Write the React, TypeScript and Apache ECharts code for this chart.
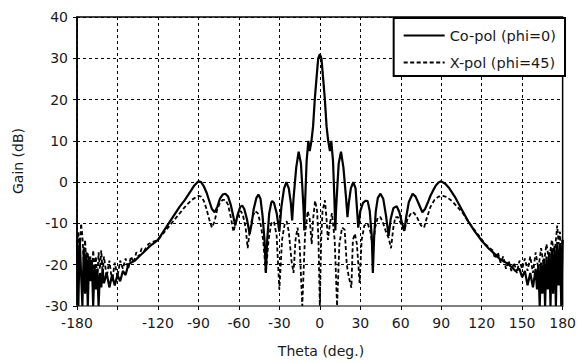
import React, { useEffect, useRef } from "react";
import * as echarts from "echarts";

const xTicks = [-180, -150, -120, -90, -60, -30, 0, 30, 60, 90, 120, 150, 180];
const seriesNames = ["Co-pol (phi=0)", "X-pol (phi=45)"];

const coTheta = [
  -180, -179, -178, -177, -176, -175, -174, -173, -172, -171, -170, -169, -168, -167, -166, -165, -164, -163, -162, -161,
  -160, -158, -156, -154, -152, -150, -148, -146, -144, -142, -140, -137, -134, -130, -126, -122, -120, -116, -112, -108,
  -104, -100, -96, -93, -90, -88, -86, -84, -82, -80, -78, -76, -74, -72, -70, -68, -66, -64, -62.7, -61,
  -59, -57.5, -56, -54, -52, -50.5, -49, -47, -45.5, -44, -42.5, -41, -40, -39, -37.5, -36, -35.3, -34, -32, -30,
  -28.5, -26.5, -24.8, -23, -21.5, -20.5, -19.5, -17.5, -15.7, -14, -13, -12, -11.5, -10.8, -9.8, -8.5, -7.5, -6.2, -5, -3.75,
  -2.5, -1.2, 0, 1.2, 2.5, 3.75, 5, 6.2, 7.5, 8.5, 9.8, 10.8, 11.5, 12, 13, 14, 15.7, 17.5, 19.5, 20.5,
  21.5, 23, 24.8, 26.5, 28.5, 30, 32, 34, 35.5, 37, 38.5, 39.3, 40.3, 41.5, 43, 45, 47, 49, 51, 52.5,
  54.5, 57, 59, 61, 62.7, 64, 66, 68.8, 71, 73, 76, 78, 80, 82, 84, 86, 88, 90, 93, 96,
  100, 105, 110, 115, 120, 125, 130, 134, 138, 142, 145, 148, 150, 152, 154, 156, 158, 160, 161, 162,
  163, 164, 165, 166, 167, 168, 169, 170, 171, 172, 173, 174, 175, 176, 177, 178, 179, 180,
];
const coGain = [
  -14, -30, -13.5, -22, -30, -16, -27, -17, -30, -18, -24, -19, -30, -20, -26, -21, -30, -22, -25.5, -21,
  -24.5, -22, -25.5, -22.5, -25, -22.5, -24, -21.5, -22.5, -20, -19.5, -19, -18, -16.8, -15.5, -14.5, -14, -12, -10, -8,
  -6, -4.3, -2.3, -0.8, 0.2, 0, -1, -2.5, -4.5, -6.5, -7.3, -6, -4, -3, -2.8, -3.5, -5.5, -8.5, -10.5, -8,
  -6, -5.7, -6.5, -9, -12.6, -10, -6.5, -3.8, -3, -4, -8, -14, -22, -14, -7.5, -5, -4.6, -5, -7.5, -12,
  -6, -1.5, 0, -1.5, -5, -9.3, -4, 3.5, 7.4, 4.5, -1, -7, -11.7, -4, 5, 10, 7.5, 10, 13.5, 20,
  25, 30, 31, 30, 25, 20, 13.5, 10, 7.5, 10, 5, -4, -11.7, -7, -1, 4.5, 7.4, 3.5, -4, -8.5,
  -5, -1.5, 0, -1.5, -11, -7, -5, -4.5, -4.6, -7, -13, -22, -13, -7, -3.8, -2.8, -4, -8, -13, -9,
  -6.3, -5.8, -7.3, -10, -11.8, -8.5, -4.8, -2.8, -3.5, -5, -7.3, -6.5, -5, -3.3, -2, -0.8, -0.1, 0.2, -0.4, -1.5,
  -3.5, -6.5, -9.5, -12, -14.2, -16, -17.5, -18.8, -19.5, -20.5, -21.5, -21, -23, -21.5, -25, -22, -25.5, -21, -26, -20,
  -30, -19.5, -27, -18.5, -30, -18, -26, -17, -30, -16, -27, -15.5, -30, -14.5, -25, -15, -30, -14,
];

const xTheta = [
  -180, -179, -178, -177, -176, -175, -174, -173, -172, -171, -170, -169, -168, -167, -166, -165, -164, -163, -162, -161,
  -160, -158, -156, -154, -152, -150, -148, -146, -144, -142, -140, -138, -136, -134, -132, -130, -127, -124, -120, -115,
  -110, -105, -100, -95, -90, -88, -86, -84, -82, -80, -78, -76, -74, -72, -70, -68, -66, -64, -62, -60,
  -58.5, -57, -55, -53.5, -52, -50, -48, -46, -44, -42, -40, -38, -36, -34, -32, -30, -28, -26, -24.5, -23,
  -21, -19.5, -18, -16.5, -15, -13, -11, -9, -7.5, -6, -5, -3.5, -2, -1, 0, 1, 2, 3.8, 5, 6,
  7.5, 9, 11, 12.8, 14.5, 16.5, 18.4, 20, 21.5, 23.4, 24.5, 26, 27.5, 29.5, 31, 33, 35.5, 37.5, 39.3, 41,
  43, 45, 47, 49, 51, 52.8, 54.5, 56, 58, 60, 62.5, 65, 68, 70, 72, 75, 77.3, 79, 82, 85,
  88, 91, 94, 98, 102, 106, 110, 114, 118, 122, 126, 128, 130, 132, 134, 136, 138, 140, 142, 144,
  146, 148, 150, 152, 154, 156, 158, 160, 162, 164, 166, 168, 170, 172, 174, 176, 177, 178, 179, 180,
];
const xGain = [
  -15, -12, -18, -10, -13, -19, -14, -21, -17, -22, -18, -23, -16.5, -22, -18, -24, -17, -21, -16.5, -22,
  -18, -23, -19, -24, -19.5, -23, -19, -21, -18.5, -21, -18, -19.5, -17, -18, -16, -16.5, -15, -14.5, -14, -12,
  -10, -8, -6, -4.3, -3.3, -3.5, -4.5, -6.5, -9, -11, -9.5, -6.5, -5, -4.3, -4.3, -5.5, -8.5, -12, -9.5, -7.5,
  -7, -8, -11, -16, -12, -8.5, -7, -7.5, -10, -14, -22, -14, -10, -9.5, -13, -26, -14, -10, -9.5, -12,
  -19, -22, -14, -11, -15, -30, -13, -7, -9, -15, -9, -4.5, -7, -14, -30, -14, -7, -4.4, -9, -14,
  -10, -7.5, -14, -30, -15, -11, -11.5, -20, -23, -25.6, -14, -12.5, -15, -24.4, -14, -10.5, -10, -12, -16, -11,
  -8.5, -8.5, -10, -12, -13.5, -16, -11, -8.5, -8.5, -10, -11.8, -9, -7.3, -7.5, -8.5, -10.5, -11, -9, -6, -4.3,
  -3.5, -3.3, -3.6, -4.6, -6, -7.5, -9.5, -11.3, -13, -14.8, -16, -16.5, -18.5, -17, -19.5, -18, -21, -19, -21.5, -19.5,
  -22, -19, -21, -18.5, -21.5, -18, -22, -17, -21, -16, -20, -15, -19, -14, -17.5, -10.5, -15, -12, -18, -13.5,
];

const coData = coTheta.map((t, i) => [t, coGain[i]]);
const xData = xTheta.map((t, i) => [t, xGain[i]]);

const FONT = "DejaVu Sans";
const TXT = "#1a1a1a";

export default function App() {
  const ref = useRef<HTMLDivElement>(null);
  useEffect(() => {
    if (!ref.current) return;
    const chart = echarts.init(ref.current, null, { renderer: "svg" });
    chart.setOption({
      animation: false,
      backgroundColor: "#fff",
      grid: {
        left: 77,
        right: 14,
        top: 17,
        bottom: 56,
        show: true,
        borderColor: "#000",
        borderWidth: 1.5,
        backgroundColor: "transparent",
      },
      legend: {
        orient: "vertical",
        right: 14,
        top: 18,
        data: seriesNames,
        itemWidth: 41,
        itemHeight: 14,
        itemGap: 12,
        padding: [10, 9, 6, 9],
        backgroundColor: "#fff",
        borderColor: "#000",
        borderWidth: 2,
        borderRadius: 0,
        itemStyle: { opacity: 0 },
        textStyle: { fontFamily: FONT, fontSize: 14.5, color: TXT },
      },
      xAxis: {
        type: "value",
        min: -180,
        max: 180,
        interval: 30,
        axisLine: { show: true, onZero: false, lineStyle: { color: "#808080", width: 2 } },
        axisTick: { show: true, length: 4, lineStyle: { color: "#000" } },
        axisLabel: {
          fontFamily: FONT,
          fontSize: 14,
          color: TXT,
          margin: 10,
          formatter: (v: number) => (v === -150 ? "" : String(v)),
        },
        splitLine: { show: true, lineStyle: { color: "#000", width: 1, type: [3, 3] } },
      },
      yAxis: {
        type: "value",
        min: -30,
        max: 40,
        interval: 10,
        axisLine: { show: true, onZero: false, lineStyle: { color: "#000", width: 1.5 } },
        axisTick: { show: true, length: 4, lineStyle: { color: "#000" } },
        axisLabel: { fontFamily: FONT, fontSize: 14, color: TXT, margin: 9 },
        splitLine: { show: true, lineStyle: { color: "#000", width: 1, type: [3, 3] } },
      },
      graphic: [
        {
          type: "text",
          x: 18,
          y: 161,
          rotation: Math.PI / 2,
          style: {
            text: "Gain (dB)",
            fontFamily: FONT,
            fontSize: 14,
            fill: TXT,
            align: "center",
            verticalAlign: "middle",
          },
        },
        {
          type: "text",
          x: 321,
          y: 351,
          style: {
            text: "Theta (deg.)",
            fontFamily: FONT,
            fontSize: 14,
            fill: TXT,
            align: "center",
            verticalAlign: "middle",
          },
        },
      ],
      series: [
        {
          name: seriesNames[0],
          type: "line",
          data: coData,
          symbol: "none",
          lineStyle: { color: "#000", width: 2.2, type: "solid" },
          itemStyle: { color: "#000" },
          z: 3,
        },
        {
          name: seriesNames[1],
          type: "line",
          data: xData,
          symbol: "none",
          lineStyle: { color: "#000", width: 1.8, type: [4, 2.5] },
          itemStyle: { color: "#000" },
          z: 2,
        },
      ],
    });
    return () => chart.dispose();
  }, []);
  return (
    <div
      ref={ref}
      style={{ position: "fixed", left: 0, top: 0, width: 579, height: 362, background: "#fff" }}
    />
  );
}
